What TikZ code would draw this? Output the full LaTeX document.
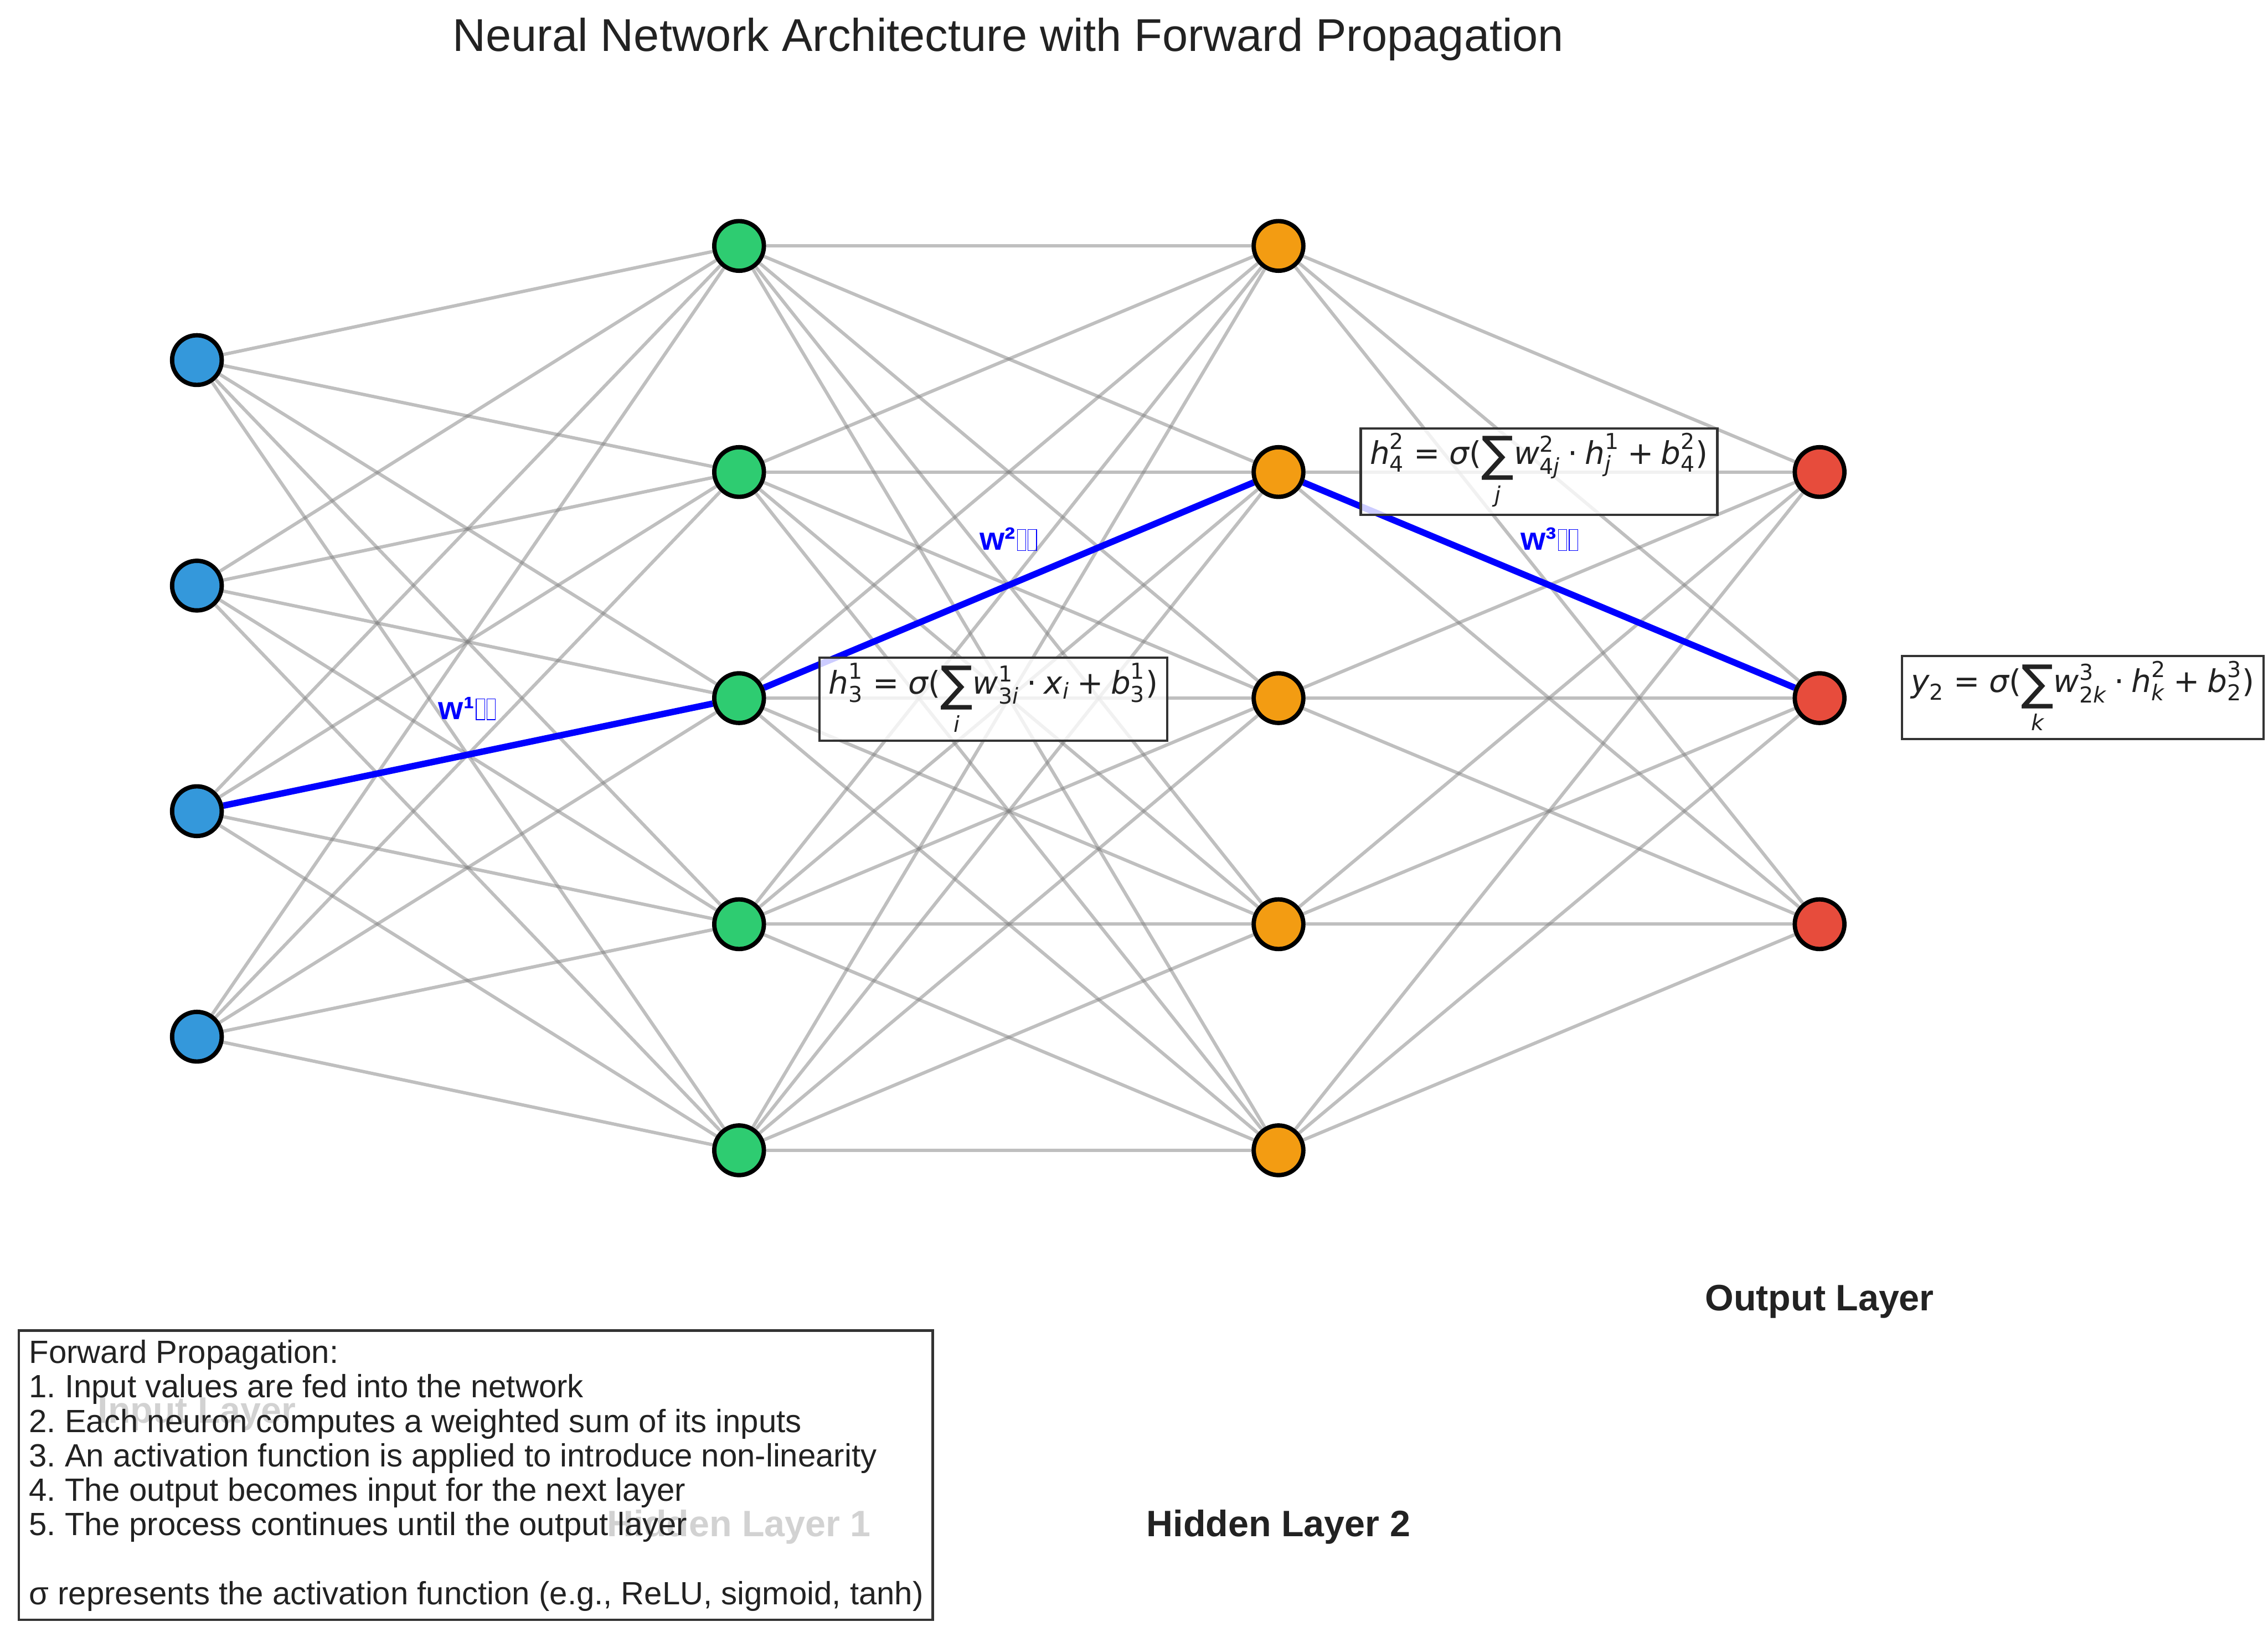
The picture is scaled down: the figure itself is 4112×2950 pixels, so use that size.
\documentclass[tikz,border=0pt]{standalone}
\usepackage{fontspec}
\usepackage{amsmath}
\setmainfont{Liberation Sans}
\newfontfamily\dejavu{DejaVu Sans}
\usetikzlibrary{backgrounds}
\definecolor{inC}{HTML}{3498DB}
\definecolor{hoC}{HTML}{2ECC71}
\definecolor{htC}{HTML}{F39C12}
\definecolor{outC}{HTML}{E74C3C}
\definecolor{txt}{HTML}{222222}
\definecolor{frm}{HTML}{333333}
\frenchspacing
\newcommand\tofu{\hspace{0.7pt}{\fboxrule=0.3pt\fboxsep=0pt\fbox{\rule{0pt}{8.8pt}\hspace{3.4pt}}}}
\newcommand\mi[1]{\text{\itshape #1}}
\newcommand\mn[1]{\text{#1}}
\newcommand\bigsum{\mathop{\mn{\raisebox{-0.22em}{\fontsize{21}{21}\selectfont ∑}}}\limits}
\begin{document}
\begin{tikzpicture}[x=0.24pt,y=-0.24pt,
  neuron/.style={circle,draw=black,line width=1.9pt,minimum size=21.6pt,inner sep=0pt},
  conn/.style={draw=black!50,draw opacity=0.5,line width=1.45pt},
  hl/.style={draw=blue,line width=2.8pt},
  wlab/.style={text=blue,font=\bfseries\fontsize{14}{16}\selectfont,inner sep=0pt},
  formula/.style={draw=frm,line width=1pt,fill=white,fill opacity=0.8,text opacity=1,
     text=txt,font=\dejavu\fontsize{13.6}{16}\selectfont,inner xsep=4pt,inner ysep=2pt,minimum height=36pt,anchor=west},
  layerlab/.style={text=txt,font=\bfseries\fontsize{16}{19}\selectfont}]
\useasboundingbox (0,0) rectangle (4112,2950);
\node[text=txt,font=\fontsize{20}{24}\selectfont] (title) at (1828,71) {Neural Network Architecture with Forward Propagation};
% neurons
\foreach \y [count=\i] in {653,1062,1471,1880} \node[neuron,fill=inC] (i\i) at (357,\y) {};
\foreach \y [count=\i] in {446,856,1266,1676,2086} \node[neuron,fill=hoC] (ha\i) at (1340,\y) {};
\foreach \y [count=\i] in {446,856,1266,1676,2086} \node[neuron,fill=htC] (hb\i) at (2318,\y) {};
\foreach \y [count=\i] in {856,1266,1676} \node[neuron,fill=outC] (o\i) at (3299,\y) {};
\begin{scope}[on background layer]
\foreach \a in {1,...,4} \foreach \b in {1,...,5} \draw[conn] (i\a) -- (ha\b);
\foreach \a in {1,...,5} \foreach \b in {1,...,5} \draw[conn] (ha\a) -- (hb\b);
\foreach \a in {1,...,5} \foreach \b in {1,...,3} \draw[conn] (hb\a) -- (o\b);
\draw[hl] (i3) -- (ha3);
\draw[hl] (ha3) -- (hb2);
\draw[hl] (hb2) -- (o2);
\end{scope}
% weight labels
\node[wlab] (w1) at (847,1285) {w¹\tofu\tofu};
\node[wlab] (w2) at (1828,978) {w²\tofu\tofu};
\node[wlab] (w3) at (2809,978) {w³\tofu\tofu};
% formulas
\node[formula] (f1) at (1484,1268) {$\mi{h}^{\mn{1}}_{\mn{3}} \mathrel{\mn{=}} \mi{σ}\mathopen{\mn{(}}{\bigsum_{\mi{i}}}\mi{w}^{\mn{1}}_{\mn{3}\mi{i}} \mathbin{\mn{·}} \mi{x}_{\mi{i}} \mathbin{\mn{+}} \mi{b}^{\mn{1}}_{\mn{3}}\mathclose{\mn{)}}$};
\node[formula] (f2) at (2465,855) {$\mi{h}^{\mn{2}}_{\mn{4}} \mathrel{\mn{=}} \mi{σ}\mathopen{\mn{(}}{\bigsum_{\mi{j}}}\mi{w}^{\mn{2}}_{\mn{4}\mi{j}} \mathbin{\mn{·}} \mi{h}^{\mn{1}}_{\mi{j}} \mathbin{\mn{+}} \mi{b}^{\mn{2}}_{\mn{4}}\mathclose{\mn{)}}$};
\node[formula] (f3) at (3446,1265) {$\mi{y}_{\mn{2}} \mathrel{\mn{=}} \mi{σ}\mathopen{\mn{(}}{\bigsum_{\mi{k}}}\mi{w}^{\mn{3}}_{\mn{2}\mi{k}} \mathbin{\mn{·}} \mi{h}^{\mn{2}}_{\mi{k}} \mathbin{\mn{+}} \mi{b}^{\mn{3}}_{\mn{2}}\mathclose{\mn{)}}$};
% layer labels
\node[layerlab] (lin) at (357,2565) {Input Layer};
\node[layerlab] (lh1) at (1340,2769) {Hidden Layer 1};
\node[layerlab] (lh2) at (2318,2769) {Hidden Layer 2};
\node[layerlab] (lout) at (3299,2360) {Output Layer};
% explanation box
\node[draw=frm,line width=1pt,fill=white,fill opacity=0.8,minimum width=397.7pt,minimum height=125.8pt,inner sep=0pt] (tb) at (862.5,2675) {};
\node[anchor=north west,inner sep=0pt,align=left,text=txt,font=\fontsize{14}{15}\selectfont] (tbt) at (52,2429) {Forward Propagation:\\
1. Input values are fed into the network\\
2. Each neuron computes a weighted sum of its inputs\\
3. An activation function is applied to introduce non-linearity\\
4. The output becomes input for the next layer\\
5. The process continues until the output layer\\[15pt]
σ represents the activation function (e.g., ReLU, sigmoid, tanh)};
\end{tikzpicture}
\end{document}
